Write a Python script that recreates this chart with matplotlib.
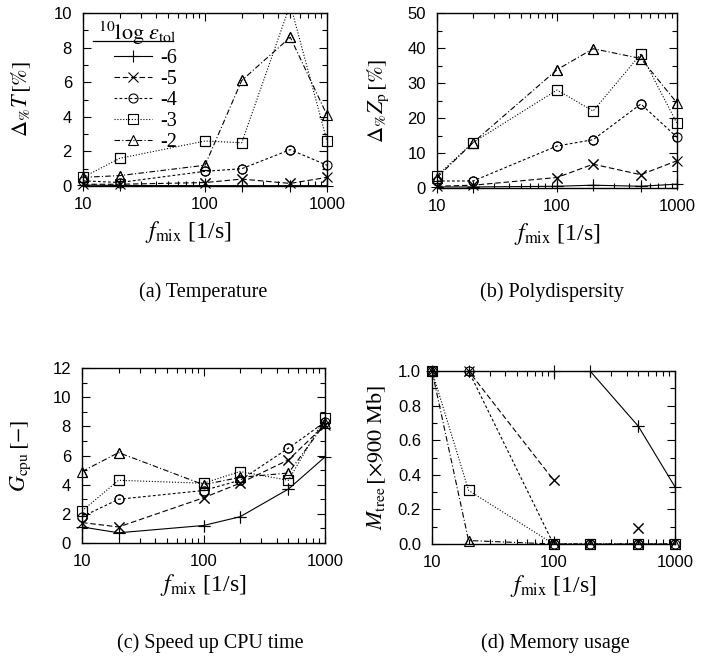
import numpy as np
import matplotlib
matplotlib.use("Agg")
import matplotlib.pyplot as plt
from matplotlib.ticker import MultipleLocator, FixedLocator, NullFormatter, FixedFormatter, FormatStrFormatter, LogLocator

plt.rcParams['mathtext.fontset'] = 'stix'
plt.rcParams['font.family'] = ['Liberation Serif', 'DejaVu Serif']

f_mix = [10, 20, 100, 200, 500, 1000]
tol_labels = ['-6', '-5', '-4', '-3', '-2']

temp = {
    '-6': [0.05, 0.03, 0.02, 0.02, 0.02, 0.02],
    '-5': [0.1, 0.1, 0.2, 0.4, 0.15, 0.5],
    '-4': [0.3, 0.2, 0.85, 1.0, 2.1, 1.2],
    '-3': [0.5, 1.6, 2.6, 2.5, 10.5, 2.6],
    '-2': [0.5, 0.6, 1.2, 6.1, 8.6, 4.1],
}
poly = {
    '-6': [0.3, 0.3, 0.5, 0.8, 0.5, 1.1],
    '-5': [0.5, 0.8, 3.0, 6.8, 3.8, 7.8],
    '-4': [2.0, 2.0, 12.0, 13.8, 24.0, 14.5],
    '-3': [3.5, 13.0, 28.0, 22.0, 38.3, 18.5],
    '-2': [3.0, 13.0, 33.8, 39.8, 37.0, 24.3],
}
speedup = {
    '-6': [1.1, 0.7, 1.2, 1.8, 3.7, 5.9],
    '-5': [1.4, 1.1, 3.1, 4.1, 5.7, 8.1],
    '-4': [1.8, 3.0, 3.6, 4.3, 6.5, 8.3],
    '-3': [2.2, 4.3, 4.1, 4.9, 4.3, 8.6],
    '-2': [4.9, 6.2, 4.0, 4.5, 4.8, 8.2],
}
memory = {
    '-6': [1.0, 1.0, 1.0, 1.0, 0.68, 0.33],
    '-5': [1.0, 1.0, 0.37, np.nan, 0.09, np.nan],
    '-4': [1.0, 1.0, 0.0, 0.0, 0.0, 0.0],
    '-3': [1.0, 0.31, 0.0, 0.0, 0.0, 0.0],
    '-2': [1.0, 0.02, 0.0, 0.0, 0.0, 0.0],
}

styles = {
    '-6': dict(marker='+', dashes=(), ms=9),
    '-5': dict(marker='x', dashes=(5, 2.5), ms=7),
    '-4': dict(marker='o', dashes=(2.5, 2), ms=6.5, mfc='none'),
    '-3': dict(marker='s', dashes=(1, 1.6), ms=6.5, mfc='none'),
    '-2': dict(marker='^', dashes=(5, 2, 1, 2), ms=6.5, mfc='none'),
}

W, H = 713, 659
fig = plt.figure(figsize=(W / 100, H / 100), dpi=100)


def add_ax(l, r, t, b):
    return fig.add_axes([l / W, (H - b) / H, (r - l) / W, (b - t) / H])


def style_ax(ax, ymax, major, minor, ylabel, ylab_x, xlab_x=0.5, xlab_y=-0.19, yfmt=None):
    ax.set_xscale('log')
    ax.set_xlim(10, 1000)
    ax.set_ylim(0, ymax)
    ax.yaxis.set_major_locator(MultipleLocator(major))
    ax.yaxis.set_minor_locator(MultipleLocator(minor))
    ax.xaxis.set_major_locator(FixedLocator([10, 100, 1000]))
    ax.xaxis.set_major_formatter(FixedFormatter(['10', '100', '1000']))
    ax.xaxis.set_minor_locator(LogLocator(base=10, subs=np.arange(2, 10)))
    ax.xaxis.set_minor_formatter(NullFormatter())
    if yfmt:
        ax.yaxis.set_major_formatter(FormatStrFormatter(yfmt))
    ax.tick_params(which='both', direction='in', top=True, right=True, width=0.8)
    ax.tick_params(which='major', length=6)
    ax.tick_params(which='minor', length=3.5)
    ax.tick_params(axis='x', which='major', pad=8)
    ax.tick_params(axis='y', which='major', pad=8)
    for lab in ax.get_xticklabels() + ax.get_yticklabels():
        lab.set_fontfamily('Liberation Sans')
        lab.set_fontsize(12)
    for s in ax.spines.values():
        s.set_linewidth(1.0)
    ax.set_xlabel(r'$f_{\rm mix}$ [1/s]', fontsize=17)
    ax.xaxis.set_label_coords(xlab_x, xlab_y)
    ax.set_ylabel(ylabel, fontsize=16)
    ax.yaxis.set_label_coords(ylab_x, 0.5)


def plot_series(ax, data, ymax):
    handles = []
    for k in tol_labels:
        st = dict(styles[k])
        y = np.array(data[k], dtype=float)
        h, = ax.plot(f_mix, y, color='black', lw=0.8, mec='black', mew=0.8,
                     label=k, **st)
        handles.append(h)
        # unclipped markers for points lying on the frame
        y_in = np.where(y <= ymax, y, np.nan)
        ax.plot(f_mix, y_in, ls='none', marker=st['marker'], ms=st['ms'],
                mfc=st.get('mfc', 'black'), mec='black', mew=0.8, clip_on=False)
    return handles


axa = add_ax(83, 327, 13, 186)
hs = plot_series(axa, temp, 10)
style_ax(axa, 10, 2, 1, r'$\Delta_{\%}T\,[\%]$', -0.205, xlab_x=0.43)
leg = axa.legend(handles=hs, loc='upper left', frameon=False,
                 title=r'$^{10}\log\,\epsilon_{\rm tol}$',
                 fontsize=14.5, title_fontsize=16, handlelength=1.9,
                 labelspacing=0.1, handletextpad=0.4,
                 borderaxespad=0.0, bbox_to_anchor=(0.03, 1.01))
leg._legend_box.align = "right"
axa.plot([0.04, 0.37], [0.84, 0.84], transform=axa.transAxes, color='black', lw=0.9)

axb = add_ax(437, 677, 13, 188)
plot_series(axb, poly, 50)
style_ax(axb, 50, 10, 5, r'$\Delta_{\%}Z_{\rm p}\,[\%]$', -0.19)

axc = add_ax(82, 325, 368, 543)
plot_series(axc, speedup, 12)
style_ax(axc, 12, 2, 1, r'$G_{\rm cpu}\,[-]$', -0.2, xlab_y=-0.165)

axd = add_ax(432, 675, 371, 544)
plot_series(axd, memory, 1.0)
style_ax(axd, 1.0, 0.2, 0.1, r'$M_{\rm tree}\,[\times 900\ {\rm Mb}]$', -0.18,
         xlab_y=-0.165, yfmt='%.1f')

cap_font = dict(fontsize=14.5, ha='center', va='center')
fig.text(203 / W, 1 - 292 / H, '(a) Temperature', **cap_font)
fig.text(552 / W, 1 - 292 / H, '(b) Polydispersity', **cap_font)
fig.text(210 / W, 1 - 643 / H, '(c) Speed up CPU time', **cap_font)
fig.text(555 / W, 1 - 643 / H, '(d) Memory usage', **cap_font)

fig.savefig('out.png', dpi=100)
